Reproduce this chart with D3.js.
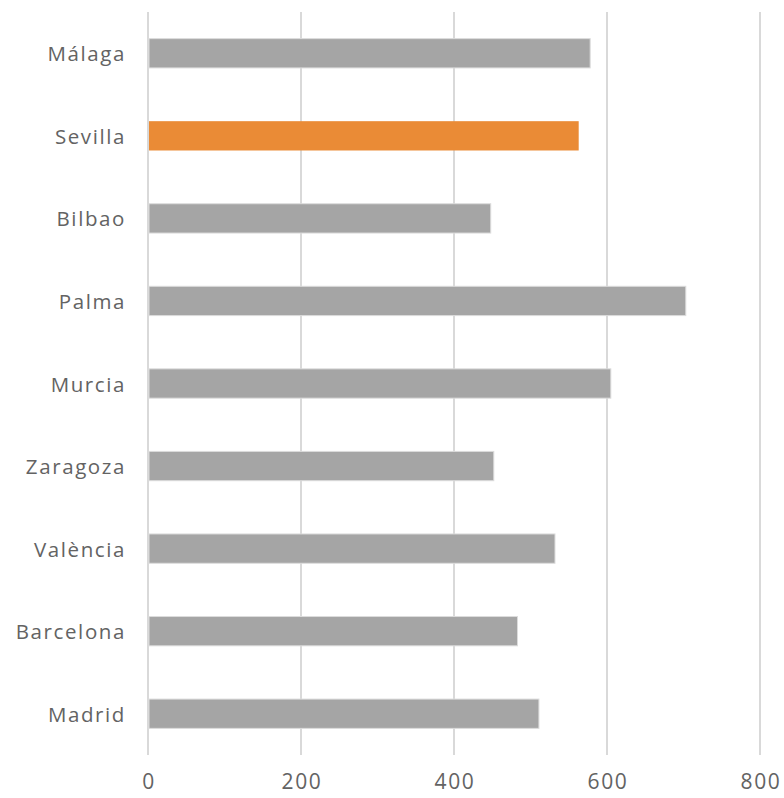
<!DOCTYPE html>
<html><head><meta charset="utf-8">
<script src="https://cdn.jsdelivr.net/npm/d3@7"></script>
<style>body{margin:0;background:#fff}</style>
</head><body>
<svg id="c" width="784" height="798"></svg>
<script>
const categories = ["Málaga","Sevilla","Bilbao","Palma","Murcia","Zaragoza","València","Barcelona","Madrid"];
const values = [578,563,448,703,605,452,532,483,511];
const highlight = "Sevilla";
const ticks = [0,200,400,600,800];

const svg = d3.select("#c");
const m = {left:148, right:24, top:12, bottom:43};
const W = 784, H = 798;
const x = d3.scaleLinear().domain([0,800]).range([m.left, W - m.right]);
const y = d3.scaleBand().domain(categories).range([m.top, H - m.bottom]).paddingInner(0.645).paddingOuter(0.3225);

svg.append("g").selectAll("line").data(ticks).join("line")
  .attr("x1", d=>x(d)).attr("x2", d=>x(d))
  .attr("y1", m.top).attr("y2", H - m.bottom)
  .attr("stroke", "#d9d9d9").attr("stroke-width", 2);

svg.append("g").selectAll("rect").data(categories).join("rect")
  .attr("x", x(0)+1)
  .attr("y", d=>y(d))
  .attr("width", (d,i)=>x(values[i]) - x(0) - 1)
  .attr("height", y.bandwidth())
  .attr("fill", d=> d===highlight ? "#ea8b36" : "#a5a5a5")
  .attr("stroke", d=> d===highlight ? "none" : "#dcdcdc").attr("stroke-width", 1);

svg.append("g").selectAll("text").data(categories).join("text")
  .attr("x", 126).attr("y", d=>y(d)+y.bandwidth()/2)
  .attr("text-anchor","end").attr("dominant-baseline","central")
  .attr("font-family","'Open Sans', sans-serif").attr("font-size",20.5)
  .attr("letter-spacing", 1.6)
  .attr("fill","#636363").text(d=>d);

svg.append("g").selectAll("text").data(ticks).join("text")
  .attr("x", d=>x(d)+1).attr("y", 781)
  .attr("text-anchor","middle").attr("dominant-baseline","central")
  .attr("font-family","'Open Sans', sans-serif").attr("font-size",21)
  .attr("letter-spacing", 1.6)
  .attr("fill","#636363").text(d=>d);
</script>
</body></html>
